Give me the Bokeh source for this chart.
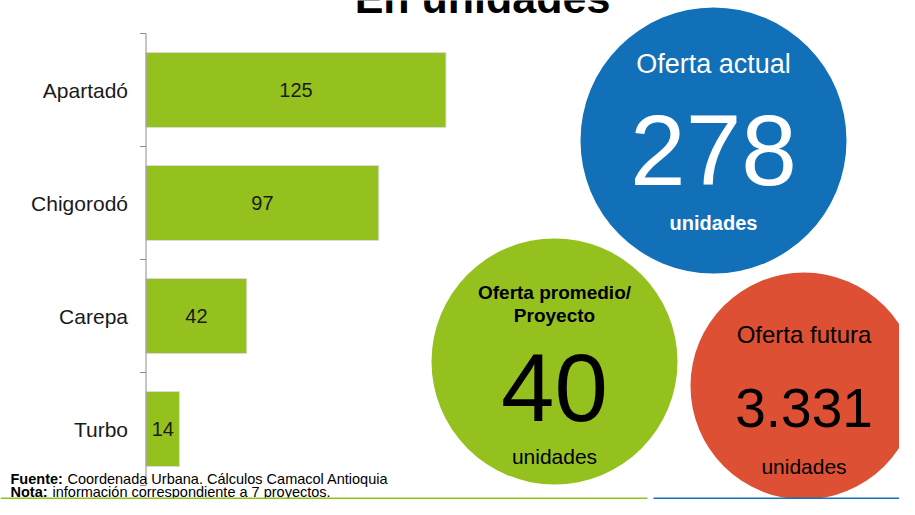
from bokeh.plotting import figure
from bokeh.models import Range1d, ColumnDataSource
from bokeh.core.properties import value
from bokeh.embed import file_html
from bokeh.resources import INLINE

# ---------------- data ----------------
title_text = "En unidades"
categories = ["Apartadó", "Chigorodó", "Carepa", "Turbo"]
units_by_city = [125, 97, 42, 14]

kpi_titles = [["Oferta actual"], ["Oferta promedio/", "Proyecto"], ["Oferta futura"]]
kpi_values = ["278", "40", "3.331"]
kpi_units = ["unidades", "unidades", "unidades"]

note_bold = ["Fuente:", "Nota:"]
note_text = ["Coordenada Urbana. Cálculos Camacol Antioquia",
             "información correspondiente a 7 proyectos."]

# ---------------- layout / style ----------------
FONT = value("Liberation Sans")
GREEN = "#95C11F"
BLUE = "#1170B8"
RED = "#DD5034"

W, H = 899, 499
PX_PER_UNIT = 2.4
ZERO_X = 145.5           # px where value 0 sits
BAND = 113.0             # px per category
FIRST_CENTER = 89.5      # px of first category centre

x_range = Range1d(-ZERO_X / PX_PER_UNIT, (W - ZERO_X) / PX_PER_UNIT)
y_range = Range1d((H - FIRST_CENTER) / BAND, (0 - FIRST_CENTER) / BAND)

p = figure(width=W, height=H, x_range=x_range, y_range=y_range,
           output_backend="svg", toolbar_location=None,
           x_axis_location=None, y_axis_location=None, min_border=0)
p.xgrid.visible = False
p.ygrid.visible = False
p.outline_line_color = None
p.background_fill_color = "white"
p.border_fill_color = "white"

# pixel coordinate system for the infographic pieces
p.extra_x_ranges = {"px": Range1d(0, W)}
p.extra_y_ranges = {"px": Range1d(H, 0)}

n = len(categories)
idx = list(range(n))
src = ColumnDataSource(dict(
    y=idx, cat=categories, v=units_by_city,
    half=[v / 2 for v in units_by_city],
    lbl=[str(v) for v in units_by_city],
))

# bars
p.hbar(y="y", left=0, right="v", height=0.664, source=src,
       fill_color=GREEN, line_color="#dcdcdc", line_width=1)

# value labels inside bars
p.text(x="half", y="y", text="lbl", source=src, text_align="center",
       text_baseline="middle", text_font=FONT, text_font_size="20px",
       text_color="#1a1a1a")

# category labels
p.text(x=0, y="y", text="cat", source=src, x_offset=-18, text_align="right",
       text_baseline="middle", text_font=FONT, text_font_size="21px",
       text_color="#1a1a1a")

# y axis line and ticks
p.segment(x0=[0], y0=[-0.5], x1=[0], y1=[n - 0.5], line_color="#8c8c8c", line_width=1)
p.ray(x=[0] * (n + 1), y=[i - 0.5 for i in range(n + 1)], length=6,
      length_units="screen", angle=3.14159265, line_color="#8c8c8c", line_width=1)

# title (mostly cut off at the top, as in the reference)
p.text(x=[482], y=[-3], text=[title_text], x_range_name="px", y_range_name="px",
       text_align="center", text_baseline="middle", text_font=FONT,
       text_font_size="43px", text_font_style="bold", text_color="black")

# KPI circles
circle_layout = [
    dict(cx=713, cy=140, r=133, fill=BLUE, fg="white",
         title_y=[63.5], title_size="27px", title_style="normal",
         value_y=150, value_size="100px",
         unit_y=222, unit_size="20px", unit_style="bold"),
    dict(cx=554, cy=361, r=123, fill=GREEN, fg="black",
         title_y=[291.5, 314.5], title_size="19px", title_style="bold",
         value_y=386.5, value_size="96px",
         unit_y=455.5, unit_size="21px", unit_style="normal"),
    dict(cx=803.5, cy=385.5, r=113.5, fill=RED, fg="black",
         title_y=[334], title_size="24px", title_style="normal",
         value_y=407, value_size="55px",
         unit_y=465.5, unit_size="21px", unit_style="normal"),
]

for lay, tl, val, un in zip(circle_layout, kpi_titles, kpi_values, kpi_units):
    p.circle(x=[lay["cx"]], y=[lay["cy"]], radius=lay["r"], x_range_name="px",
             y_range_name="px", fill_color=lay["fill"], line_color=None)
    p.text(x=[lay["cx"]] * len(tl), y=lay["title_y"], text=tl,
           x_range_name="px", y_range_name="px", text_align="center",
           text_baseline="middle", text_font=FONT,
           text_font_size=lay["title_size"], text_font_style=lay["title_style"],
           text_color=lay["fg"])
    p.text(x=[lay["cx"]], y=[lay["value_y"]], text=[val],
           x_range_name="px", y_range_name="px", text_align="center",
           text_baseline="middle", text_font=FONT,
           text_font_size=lay["value_size"], text_color=lay["fg"])
    p.text(x=[lay["cx"]], y=[lay["unit_y"]], text=[un],
           x_range_name="px", y_range_name="px", text_align="center",
           text_baseline="middle", text_font=FONT,
           text_font_size=lay["unit_size"], text_font_style=lay["unit_style"],
           text_color=lay["fg"])

# footnotes
p.text(x=[10, 10], y=[478, 491], text=note_bold, x_range_name="px", y_range_name="px",
       text_align="left", text_baseline="middle", text_font=FONT,
       text_font_size="14.5px", text_font_style="bold", text_color="black")
p.text(x=[67, 52], y=[478, 491], text=note_text, x_range_name="px", y_range_name="px",
       text_align="left", text_baseline="middle", text_font=FONT,
       text_font_size="14.5px", text_color="black")

# bottom rules
p.segment(x0=[0], y0=[498], x1=[647], y1=[498], x_range_name="px", y_range_name="px",
          line_color=GREEN, line_width=2)
p.segment(x0=[653], y0=[498], x1=[W], y1=[498], x_range_name="px", y_range_name="px",
          line_color=BLUE, line_width=2)

open("out.html", "w").write(file_html(p, INLINE))
